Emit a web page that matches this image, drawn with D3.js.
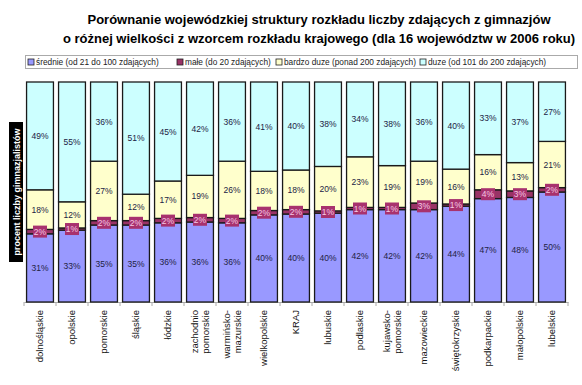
<!DOCTYPE html>
<html><head><meta charset="utf-8">
<script src="https://cdn.jsdelivr.net/npm/d3@7"></script>
<style>body{margin:0;background:#fff}svg{display:block}text{font-family:"Liberation Sans",Arial,sans-serif}</style>
</head><body><svg id="c" width="582" height="385"></svg>
<script>
const categories = ["dolnośląskie","opolskie","pomorskie","śląskie","łódzkie","zachodnio\npomorskie","warmińsko-\nmazurskie","wielkopolskie","KRAJ","lubuskie","podlaskie","kujawsko-\npomorskie","mazowieckie","świętokrzyskie","podkarpackie","małopolskie","lubelskie"];
const seriesNames = ["średnie (od 21 do 100 zdających)","małe (do 20 zdających)","bardzo duze (ponad 200 zdających)","duze (od 101 do 200 zdających)"];
const srednie = [31,33,35,35,36,36,36,40,40,40,42,42,42,44,47,48,50];
const male    = [2,1,2,2,2,2,2,2,2,1,1,1,3,1,4,3,2];
const bardzoDuze = [18,12,27,12,17,19,26,18,18,20,23,19,19,16,16,13,21];
const duze    = [49,55,36,51,45,42,36,41,40,38,34,38,36,40,33,37,27];
const colors = ["#9999ff","#993366","#ffffcc","#ccffff"];
const titleLines = ["Porównanie wojewódzkiej struktury rozkładu liczby zdających z gimnazjów","o różnej wielkości z wzorcem rozkładu krajowego (dla 16 województw w 2006 roku)"];
const yLabel = "procent liczby gimnazjalistów";

const svg = d3.select("#c");
const keys = ["s","m","b","d"];
const rows = categories.map((c,i)=>({cat:c,s:srednie[i],m:male[i],b:bardzoDuze[i],d:duze[i]}));
const stack = d3.stack().keys(keys).offset(d3.stackOffsetExpand);
const stacked = stack(rows);

const x = d3.scaleBand().domain(categories).range([24,568]).paddingInner(0.16).paddingOuter(0.08);
const y = d3.scaleLinear().domain([0,1]).range([302,82]);

// title
svg.append("g").selectAll("text").data(titleLines).join("text")
  .attr("x",319).attr("y",(d,i)=>24+i*19).attr("text-anchor","middle")
  .attr("font-size",13).attr("font-weight","bold").attr("fill","#000").text(d=>d);

// legend
const lg = svg.append("g");
lg.append("rect").attr("x",25.5).attr("y",55.5).attr("width",552).attr("height",13).attr("fill","#fff").attr("stroke","#aaa");
const legX = [28,177,276,420];
seriesNames.forEach((n,i)=>{
  lg.append("rect").attr("x",legX[i]).attr("y",59).attr("width",6).attr("height",6).attr("fill",colors[i]).attr("stroke","#222").attr("stroke-width",0.8);
  lg.append("text").attr("x",legX[i]+8).attr("y",65).attr("font-size",8.3).attr("fill","#222").text(n);
});

// y axis label
svg.append("rect").attr("x",9).attr("y",122).attr("width",14).attr("height",140).attr("fill","#000");
svg.append("text").attr("transform","translate(19.5,192) rotate(-90)").attr("text-anchor","middle")
  .attr("font-size",9).attr("font-weight","bold").attr("fill","#fff").text(yLabel);

// x axis
const xAxis = d3.axisBottom(x).tickSize(0).tickFormat("");
const ax = svg.append("g").attr("transform","translate(0,302)").call(xAxis);
ax.select(".domain").attr("stroke","#aaa");
const bounds = d3.range(categories.length+1).map(i=> i===0? 24 : (i===categories.length?568: x(categories[i]) - x.step()*x.paddingInner()/2));
svg.append("g").selectAll("line").data(bounds).join("line")
  .attr("x1",d=>d).attr("x2",d=>d).attr("y1",302).attr("y2",306).attr("stroke","#aaa");

// bars
const g = svg.append("g");
stacked.forEach((layer,li)=>{
  g.append("g").selectAll("rect").data(layer).join("rect")
    .attr("x",d=>x(d.data.cat)).attr("width",x.bandwidth())
    .attr("y",d=>y(d[1])).attr("height",d=>y(d[0])-y(d[1]))
    .attr("fill",colors[li]).attr("stroke","#1a1a1a").attr("stroke-width",1.3);
});

// labels
const lab = svg.append("g");
stacked.forEach((layer,li)=>{
  layer.forEach(d=>{
    const cx = x(d.data.cat)+x.bandwidth()/2;
    const cy = y((d[0]+d[1])/2);
    const v = d.data[keys[li]];
    if(li===1){
      lab.append("rect").attr("x",cx-7).attr("y",cy-6).attr("width",14).attr("height",12).attr("fill","#a8326e");
      lab.append("text").attr("x",cx).attr("y",cy+3).attr("text-anchor","middle").attr("font-size",8.5).attr("fill","#f4c8e4").text(v+"%");
    } else {
      lab.append("text").attr("x",cx).attr("y",cy+3).attr("text-anchor","middle").attr("font-size",8.5).attr("fill","#222244").text(v+"%");
    }
  });
});

// category labels
categories.forEach(c=>{
  const lines = c.split("\n");
  const cx = x(c)+x.bandwidth()/2;
  const t = svg.append("text").attr("transform",`translate(${cx},310) rotate(-90)`).attr("text-anchor","end").attr("font-size",9.5).attr("fill","#111");
  lines.forEach((l,i)=>{
    t.append("tspan").attr("x",0).attr("y",(i-(lines.length-1)/2)*10.5+3.3).text(l);
  });
});
</script></body></html>
